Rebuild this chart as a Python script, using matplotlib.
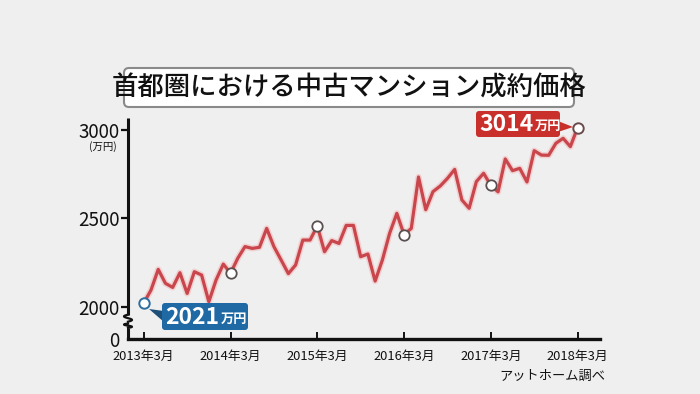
import numpy as np
import matplotlib
matplotlib.use("Agg")
import matplotlib.pyplot as plt
from matplotlib.patches import FancyBboxPatch, Polygon

plt.rcParams['font.family'] = ['Noto Sans CJK JP', 'DejaVu Sans']

# ---- data (monthly, 2013/3 .. 2018/3), 万円 ----
prices = [2021, 2094, 2211, 2132, 2109, 2192, 2075, 2198, 2179, 2028,
          2151, 2241, 2189, 2274, 2340, 2330, 2336, 2443, 2340, 2264,
          2187, 2236, 2377, 2377, 2457, 2311, 2374, 2358, 2460, 2460,
          2283, 2298, 2145, 2264, 2415, 2528, 2408, 2443, 2734, 2549,
          2651, 2683, 2726, 2777, 2604, 2557, 2708, 2755, 2687, 2650,
          2836, 2770, 2783, 2706, 2883, 2858, 2857, 2925, 2953, 2906,
          3014]
tick_months = [0, 12, 24, 36, 48, 60]
tick_labels = ["2013年3月", "2014年3月", "2015年3月", "2016年3月", "2017年3月", "2018年3月"]
ytick_vals = [2000, 2500, 3000]
zero_pos = 1817          # where the "0" sits below the axis break
title = "首都圏における中古マンション成約価格"
source = "アットホーム調べ"
unit = "万円"

BG = "#efefef"
LINE = "#c9464d"

fig = plt.figure(figsize=(7, 3.94), dpi=100, facecolor=BG)
ax = fig.add_axes([128/700, 1-339/394, 472/700, 221/394])
ax.set_facecolor("none")
ax.set_xlim(-2.18, 63.1)
ax.set_ylim(zero_pos, 3068)

months = np.arange(len(prices))
ax.plot(months, prices, color="#f2c4c4", lw=4.5, alpha=0.7, solid_joinstyle="round",
        solid_capstyle="round", zorder=2)
ax.plot(months, prices, color=LINE, lw=2.3, solid_joinstyle="round", zorder=3)
mk = tick_months
ax.plot(mk[1:-1], [prices[i] for i in mk[1:-1]], ls="none", marker="o", ms=7.5,
        mfc="white", mec="#5a5050", mew=1.3, zorder=4)
ax.plot([mk[0]], [prices[0]], ls="none", marker="o", ms=7.5, mfc="white",
        mec="#2e6e9e", mew=1.4, zorder=4)
ax.plot([mk[-1]], [prices[-1]], ls="none", marker="o", ms=7.5, mfc="white",
        mec="#6a4a4a", mew=1.4, zorder=4)

for s in ["top", "right", "left"]:
    ax.spines[s].set_visible(False)
ax.spines["bottom"].set_linewidth(2.4)
ax.spines["bottom"].set_color("#111111")

# left axis drawn with a break
yt = ax.get_yaxis_transform()
ax.plot([0, 0], [1955, 3068], transform=yt, color="#111111", lw=2.2, clip_on=False,
        solid_capstyle="butt")
ax.plot([0, 0], [zero_pos, 1880], transform=yt, color="#111111", lw=2.2, clip_on=False,
        solid_capstyle="butt")
t = np.linspace(0, 1, 40)
for top, bot in [(1955, 1915), (1905, 1880)]:
    xs = -4/472 * np.sin(2*np.pi*t)
    ys = top + (bot - top) * t
    ax.plot(xs, ys, transform=yt, color="#111111", lw=1.6, clip_on=False)

ax.set_yticks([zero_pos] + ytick_vals)
ax.set_yticklabels(["0"] + [str(v) for v in ytick_vals])
ax.tick_params(axis="y", direction="out", length=5, width=1.6, pad=1,
               labelsize=13.5, colors="#111111")
ax.yaxis.get_major_ticks()[0].tick1line.set_visible(False)

ax.set_xticks(tick_months)
ax.set_xticklabels(tick_labels)
ax.tick_params(axis="x", direction="in", length=5, width=1.4, pad=8,
               labelsize=9.3, colors="#111111")

# overlay in pixel coordinates
ov = fig.add_axes([0, 0, 1, 1], zorder=10)
ov.set_xlim(0, 700)
ov.set_ylim(394, 0)
ov.axis("off")
ov.set_facecolor("none")

ov.add_patch(FancyBboxPatch((124, 68), 450, 39, boxstyle="round,pad=0,rounding_size=5",
                            fc="white", ec="#8a8a8a", lw=1.5))
ov.text(349, 88.5, title, ha="center", va="center", fontsize=19, weight="medium",
        color="#111111")

ov.text(103, 147, "(万円)", ha="center", va="center", fontsize=7.5, color="#111111")
ov.text(605, 376, source, ha="right", va="center", fontsize=9.5, color="#111111")

# blue callout
BLUE = "#1f6aa5"
ov.add_patch(Polygon([(149, 309), (164, 311), (164, 322)], closed=True, fc="#1d4f78", ec="none"))
ov.add_patch(FancyBboxPatch((162, 303), 86, 27, boxstyle="round,pad=0,rounding_size=3",
                            fc=BLUE, ec="none"))
ov.text(165, 317, str(prices[0]), ha="left", va="center", fontsize=16.5,
        weight="bold", color="white")
ov.text(221, 319, unit, ha="left", va="center", fontsize=9.5, weight="bold", color="white")

# red callout
RED = "#c9302c"
ov.add_patch(Polygon([(558, 121), (573, 127), (558, 132)], closed=True, fc=RED, ec="none"))
ov.add_patch(FancyBboxPatch((476, 111), 84, 26, boxstyle="round,pad=0,rounding_size=3",
                            fc=RED, ec="none"))
ov.text(479, 124, str(prices[-1]), ha="left", va="center", fontsize=16.5,
        weight="bold", color="white")
ov.text(535, 126, unit, ha="left", va="center", fontsize=9.5, weight="bold", color="white")

fig.savefig("out.png", dpi=100, facecolor=BG)
